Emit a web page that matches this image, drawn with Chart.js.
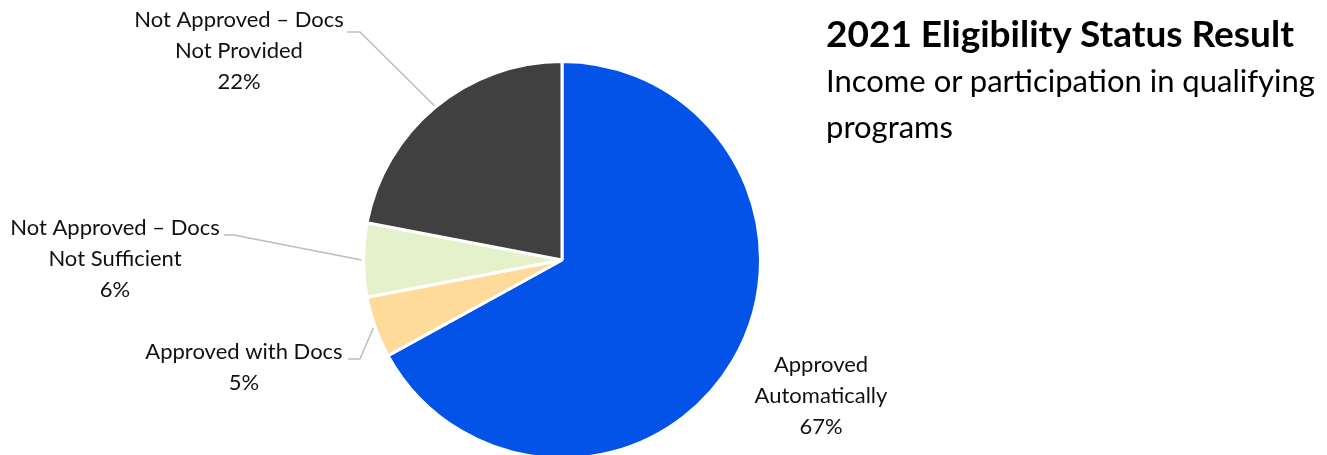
<!DOCTYPE html>
<html>
<head>
<meta charset="utf-8">
<script src="https://cdn.jsdelivr.net/npm/chart.js@4.4.1/dist/chart.umd.min.js"></script>
<style>
  html, body { margin: 0; padding: 0; background: #fff; }
  #wrap { position: relative; width: 1327px; height: 455px; overflow: hidden; }
  #pie { position: absolute; left: 0; top: 0; }
  .title { position: absolute; left: 826px; top: 10px; font: bold 37px Lato, sans-serif; color: #000; white-space: nowrap; line-height: 46px; }
  .subtitle { position: absolute; left: 826px; top: 57px; font: 31px Lato, sans-serif; color: #000; line-height: 46px; width: 500px; }
</style>
</head>
<body>
<div id="wrap">
  <canvas id="pie" width="1327" height="460"></canvas>
  <div class="title">2021 Eligibility Status Result</div>
  <div class="subtitle">Income or participation in qualifying programs</div>
</div>
<script>
const categories = ['Approved Automatically', 'Approved with Docs', 'Not Approved – Docs Not Sufficient', 'Not Approved – Docs Not Provided'];
const values = [67, 5, 6, 22];
const labelLines = [
  ['Approved', 'Automatically'],
  ['Approved with Docs'],
  ['Not Approved – Docs', 'Not Sufficient'],
  ['Not Approved – Docs', 'Not Provided']
];
const sliceColors = ['#0353e9', '#fedb9a', '#e5f1cb', '#404040'];

// label placement: text centre x, first line y, optional leader elbow
const labelLayout = [
  { x: 821, y: 365, leader: null },
  { x: 244, y: 352, elbow: [360, 359], end: 348 },
  { x: 115, y: 228, elbow: [234, 235], end: 224 },
  { x: 239, y: 20, elbow: [360, 32], end: 347 }
];

const outsideLabels = {
  id: 'outsideLabels',
  afterDraw(chart) {
    const ctx = chart.ctx;
    const meta = chart.getDatasetMeta(0);
    ctx.save();
    meta.data.forEach((arc, i) => {
      const lay = labelLayout[i];
      if (lay.elbow) {
        const mid = (arc.startAngle + arc.endAngle) / 2;
        const r = arc.outerRadius + 2;
        ctx.beginPath();
        ctx.strokeStyle = '#bdbdbd';
        ctx.lineWidth = 1.5;
        ctx.moveTo(arc.x + Math.cos(mid) * r, arc.y + Math.sin(mid) * r);
        ctx.lineTo(lay.elbow[0], lay.elbow[1]);
        ctx.lineTo(lay.end, lay.elbow[1]);
        ctx.stroke();
      }
      const lines = labelLines[i].concat([values[i] + '%']);
      ctx.fillStyle = '#111';
      ctx.font = '22px Lato, sans-serif';
      ctx.textAlign = 'center';
      ctx.textBaseline = 'middle';
      lines.forEach((t, k) => ctx.fillText(t, lay.x, lay.y + k * 31));
    });
    ctx.restore();
  }
};

new Chart(document.getElementById('pie'), {
  type: 'pie',
  data: {
    labels: categories,
    datasets: [{
      data: values,
      backgroundColor: sliceColors,
      borderColor: '#ffffff',
      borderWidth: 3
    }]
  },
  options: {
    responsive: false,
    animation: false,
    layout: { padding: { left: 362, right: 565, top: 60, bottom: 0 } },
    plugins: {
      legend: { display: false },
      tooltip: { enabled: false }
    }
  },
  plugins: [outsideLabels]
});
</script>
</body>
</html>
